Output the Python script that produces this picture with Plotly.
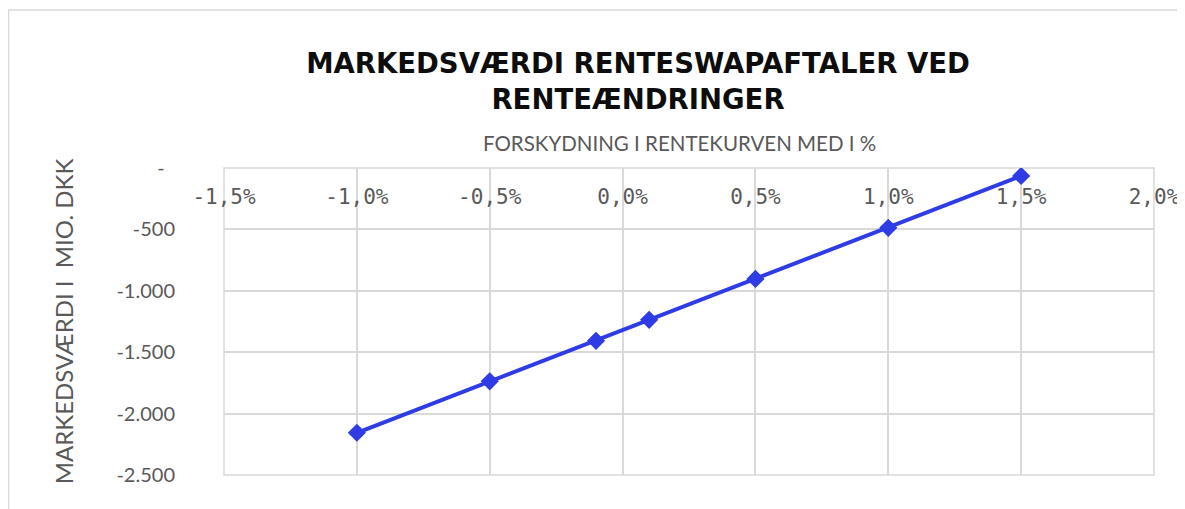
import plotly.graph_objects as go

# Data (shift in yield curve, %) and market value (mio. DKK)
shift_pct = [-1.0, -0.5, -0.1, 0.1, 0.5, 1.0, 1.5]
market_value = [-2156, -1737, -1407, -1236, -903, -487, -65]

x_tickvals = [-1.5, -1.0, -0.5, 0.0, 0.5, 1.0, 1.5, 2.0]
x_ticktext = ["-1,5%", "-1,0%", "-0,5%", "0,0%", "0,5%", "1,0%", "1,5%", "2,0%"]
y_tickvals = [0, -500, -1000, -1500, -2000, -2500]
y_ticktext = ["-\u00a0\u00a0", "-500", "-1.000", "-1.500", "-2.000", "-2.500"]

title_text = "MARKEDSVÆRDI RENTESWAPAFTALER VED<br>RENTEÆNDRINGER"
x_title = "FORSKYDNING I RENTEKURVEN MED I %"
y_title = "MARKEDSVÆRDI I  MIO. DKK"

BLUE = "#2F3CE6"
GRID = "#D9D9D9"
GRAY = "#595959"

# page body adds an 8px offset
W, H = 1177, 501
L, R, T, B = 216, 31, 160, 34
PW, PH = W - L - R, H - T - B

fig = go.Figure()
fig.add_trace(go.Scatter(
    x=shift_pct, y=market_value, mode="lines+markers",
    line=dict(color=BLUE, width=4),
    marker=dict(symbol="diamond", size=14, color=BLUE),
    showlegend=False, hoverinfo="x+y",
))

fig.update_layout(
    width=W, height=H,
    margin=dict(l=L, r=R, t=T, b=B, autoexpand=False),
    paper_bgcolor="white", plot_bgcolor="white",
    title=dict(text=title_text, x=630 / W, xanchor="center",
               y=1 - 65 / H, yanchor="middle",
               font=dict(family="DejaVu Sans", size=27.5, color="#0D0D0D", weight="bold")),
    shapes=[
        dict(type="rect", xref="paper", yref="paper",
             x0=(0.5 - L) / PW, x1=1.2, y0=-0.3, y1=(PH + T - 2) / PH,
             line=dict(color=GRID, width=1.5), fillcolor="rgba(0,0,0,0)", layer="below"),
        dict(type="rect", xref="x domain", yref="y domain", x0=0, x1=1, y0=0, y1=1,
             line=dict(color=GRID, width=1.5), fillcolor="rgba(0,0,0,0)", layer="below"),
    ],
    annotations=[dict(text=x_title, xref="paper", yref="paper", x=0.49,
                      y=1 + 25 / PH, xanchor="center", yanchor="middle", showarrow=False,
                      font=dict(family="Lato", size=20.5, color=GRAY))],
)

fig.update_xaxes(
    range=[-1.5, 2.0], side="bottom", anchor="free", position=1,
    tickvals=x_tickvals, ticktext=x_ticktext,
    ticks="", ticklabelstandoff=14,
    tickfont=dict(family="DejaVu Sans Mono", size=21, color=GRAY),
    showgrid=True, gridcolor=GRID, gridwidth=1.5, zeroline=False, showline=False,
)
fig.update_yaxes(
    range=[-2500, 0], tickvals=y_tickvals, ticktext=y_ticktext,
    ticks="", ticklabelstandoff=48,
    tickfont=dict(family="Lato", size=20, color=GRAY),
    showgrid=True, gridcolor=GRID, gridwidth=1.5, zeroline=False, showline=False,
    title=dict(text=y_title, standoff=36, font=dict(family="Lato", size=24, color=GRAY)),
)

fig.write_html("out.html")
